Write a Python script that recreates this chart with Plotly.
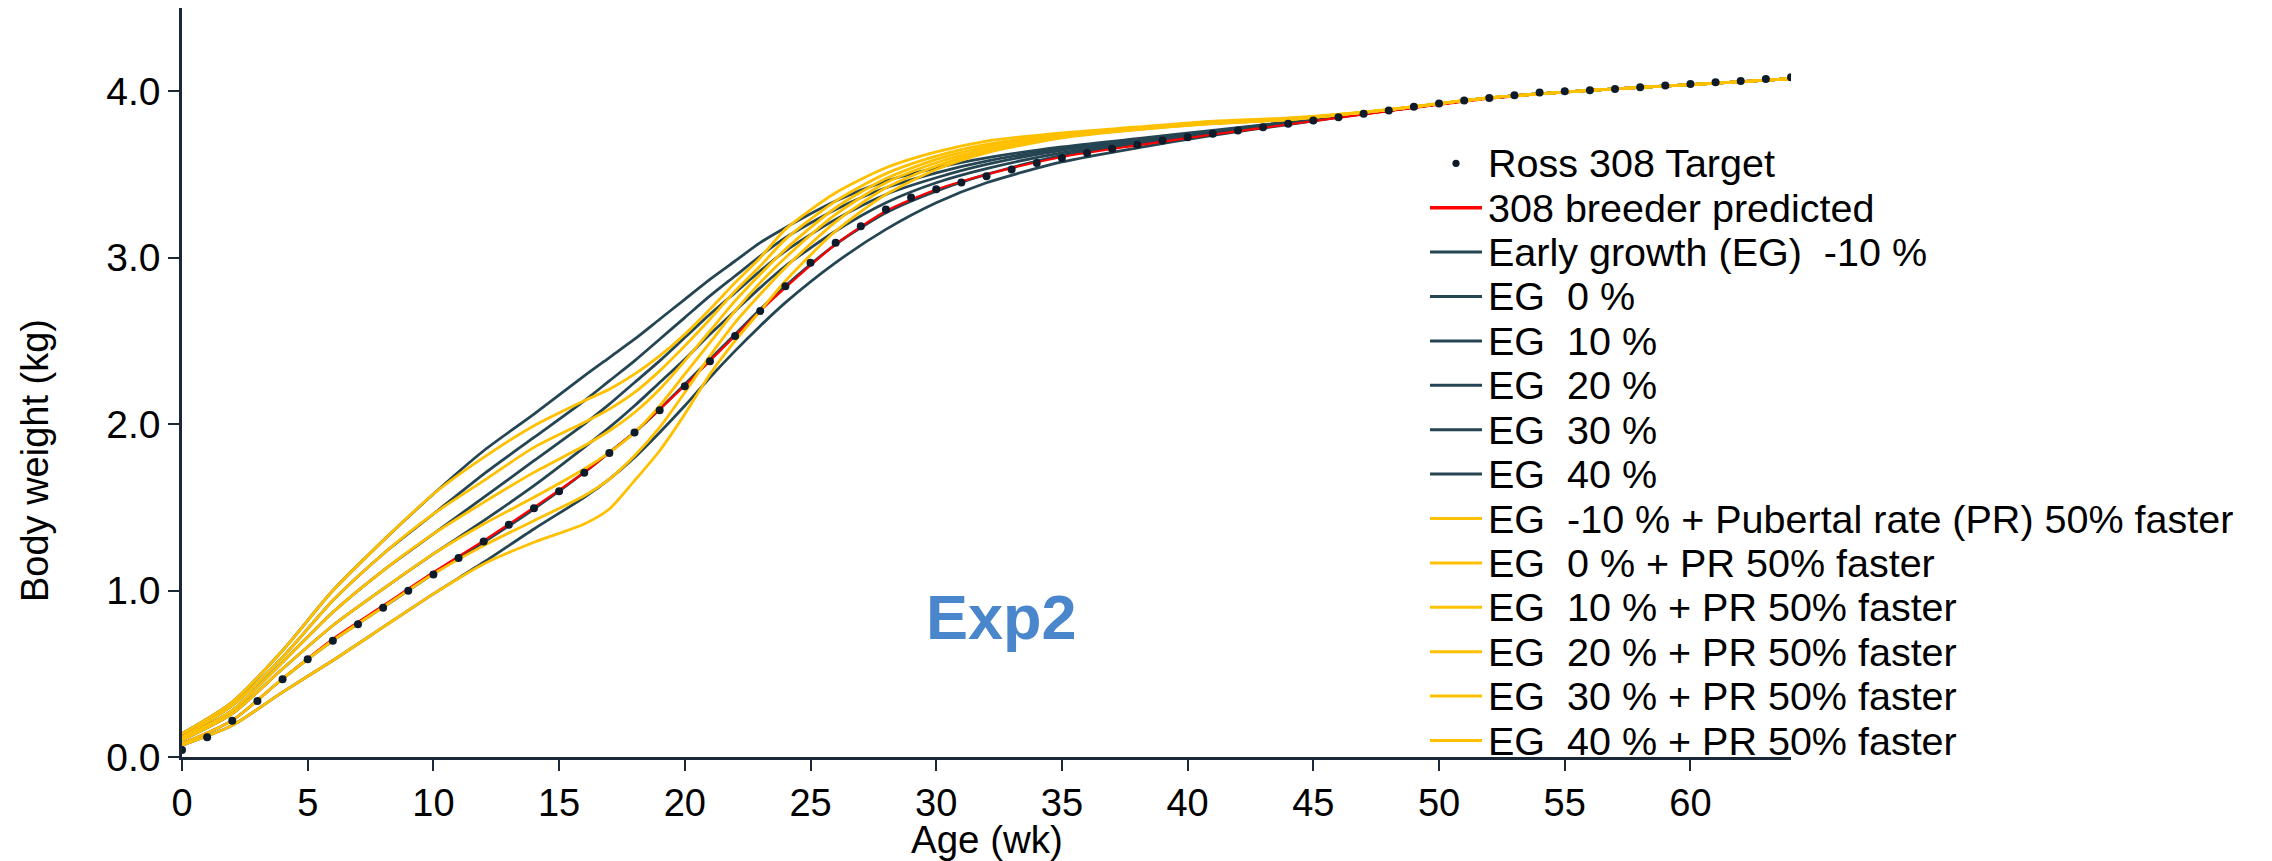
import plotly.graph_objects as go

# Ross 308 weekly target body weight (kg), weeks 0..64
target_weeks = list(range(0, 65))
target_bw = [0.042, 0.118, 0.218, 0.336, 0.467, 0.587, 0.699, 0.797, 0.897, 0.999,
             1.097, 1.195, 1.295, 1.395, 1.495, 1.596, 1.708, 1.826, 1.950, 2.084,
             2.228, 2.378, 2.529, 2.679, 2.829, 2.969, 3.089, 3.189, 3.289, 3.362,
             3.411, 3.451, 3.489, 3.529, 3.569, 3.599, 3.629, 3.654, 3.678, 3.704,
             3.724, 3.744, 3.764, 3.784, 3.804, 3.824, 3.844, 3.864, 3.884, 3.906,
             3.926, 3.944, 3.960, 3.976, 3.992, 4.000, 4.006, 4.014, 4.024, 4.034,
             4.044, 4.054, 4.062, 4.074, 4.084]

# Model output weeks
weeks = [0, 2, 4, 6, 8, 10, 12, 14, 16, 17, 18, 19, 20, 21, 22, 23, 24, 26, 28, 30,
         32, 35, 38, 41, 44, 48, 52, 56, 60, 64]

breeder_pred = [0.08, 0.22, 0.47, 0.71, 0.91, 1.11, 1.30, 1.50, 1.71, 1.83, 1.95, 2.09, 2.23, 2.38, 2.53,
                2.68, 2.82, 3.08, 3.28, 3.41, 3.50, 3.605, 3.675, 3.74, 3.80, 3.88, 3.955, 4.005, 4.04, 4.075]

# Early growth (EG) scenarios
eg_m10 = [0.07, 0.19, 0.39, 0.58, 0.78, 0.98, 1.17, 1.37, 1.56, 1.67, 1.80, 1.95, 2.11, 2.28, 2.44,
          2.59, 2.73, 2.97, 3.17, 3.33, 3.45, 3.575, 3.66, 3.735, 3.80, 3.885, 3.96, 4.005, 4.04, 4.075]
eg_0 = [0.08, 0.22, 0.47, 0.70, 0.90, 1.10, 1.29, 1.49, 1.71, 1.83, 1.95, 2.09, 2.24, 2.39, 2.54,
        2.69, 2.83, 3.08, 3.27, 3.40, 3.50, 3.615, 3.68, 3.745, 3.805, 3.885, 3.96, 4.005, 4.04, 4.075]
eg_10 = [0.10, 0.26, 0.53, 0.79, 1.01, 1.22, 1.42, 1.63, 1.86, 1.98, 2.11, 2.25, 2.39, 2.54, 2.68,
         2.82, 2.95, 3.16, 3.33, 3.45, 3.535, 3.63, 3.69, 3.75, 3.81, 3.885, 3.96, 4.005, 4.04, 4.075]
eg_20 = [0.11, 0.28, 0.57, 0.87, 1.12, 1.34, 1.56, 1.78, 2.00, 2.12, 2.25, 2.38, 2.52, 2.66, 2.79,
         2.92, 3.04, 3.23, 3.38, 3.48, 3.56, 3.645, 3.70, 3.755, 3.81, 3.885, 3.96, 4.005, 4.04, 4.075]
eg_30 = [0.12, 0.31, 0.60, 0.94, 1.22, 1.46, 1.70, 1.92, 2.14, 2.26, 2.38, 2.51, 2.64, 2.77, 2.89,
         3.01, 3.12, 3.29, 3.42, 3.51, 3.58, 3.655, 3.71, 3.76, 3.81, 3.885, 3.96, 4.005, 4.04, 4.075]
eg_40 = [0.14, 0.33, 0.64, 1.00, 1.30, 1.58, 1.84, 2.06, 2.29, 2.40, 2.51, 2.63, 2.75, 2.87, 2.98,
         3.09, 3.18, 3.34, 3.46, 3.54, 3.60, 3.665, 3.715, 3.765, 3.815, 3.885, 3.96, 4.005, 4.04, 4.075]

# EG scenarios combined with a 50% faster pubertal rate (PR)
pr_m10 = [0.07, 0.19, 0.39, 0.58, 0.78, 0.98, 1.16, 1.29, 1.40, 1.49, 1.66, 1.84, 2.06, 2.30, 2.50,
          2.68, 2.86, 3.16, 3.38, 3.53, 3.63, 3.72, 3.77, 3.805, 3.83, 3.89, 3.96, 4.005, 4.04, 4.075]
pr_0 = [0.08, 0.22, 0.47, 0.70, 0.90, 1.10, 1.27, 1.42, 1.57, 1.67, 1.81, 1.98, 2.19, 2.41, 2.61,
        2.78, 2.94, 3.215, 3.42, 3.55, 3.64, 3.725, 3.77, 3.805, 3.83, 3.89, 3.96, 4.005, 4.04, 4.075]
pr_10 = [0.10, 0.26, 0.53, 0.79, 1.01, 1.22, 1.40, 1.56, 1.73, 1.83, 1.95, 2.11, 2.30, 2.49, 2.68,
         2.85, 3.00, 3.26, 3.45, 3.57, 3.65, 3.73, 3.775, 3.81, 3.83, 3.89, 3.96, 4.005, 4.04, 4.075]
pr_20 = [0.11, 0.28, 0.57, 0.87, 1.12, 1.34, 1.53, 1.71, 1.87, 1.96, 2.07, 2.21, 2.38, 2.56, 2.74,
         2.90, 3.05, 3.30, 3.475, 3.59, 3.665, 3.735, 3.78, 3.81, 3.835, 3.89, 3.96, 4.005, 4.04, 4.075]
pr_30 = [0.12, 0.31, 0.60, 0.94, 1.22, 1.46, 1.66, 1.86, 2.01, 2.09, 2.19, 2.32, 2.47, 2.63, 2.80,
         2.95, 3.11, 3.34, 3.505, 3.61, 3.68, 3.74, 3.78, 3.815, 3.835, 3.89, 3.96, 4.005, 4.04, 4.075]
pr_40 = [0.14, 0.33, 0.64, 1.00, 1.30, 1.58, 1.80, 1.99, 2.14, 2.21, 2.30, 2.41, 2.54, 2.69, 2.85,
         3.00, 3.17, 3.39, 3.54, 3.635, 3.70, 3.75, 3.785, 3.82, 3.84, 3.89, 3.96, 4.005, 4.04, 4.075]

NB = "\u00a0"
eg_labels = ["Early growth (EG)" + NB + " -10 %", "EG" + NB + " 0 %", "EG" + NB + " 10 %",
             "EG" + NB + " 20 %", "EG" + NB + " 30 %", "EG" + NB + " 40 %"]
pr_labels = ["EG" + NB + " -10 % + Pubertal rate (PR) 50% faster",
             "EG" + NB + " 0 % + PR 50% faster", "EG" + NB + " 10 % + PR 50% faster",
             "EG" + NB + " 20 % + PR 50% faster", "EG" + NB + " 30 % + PR 50% faster",
             "EG" + NB + " 40 % + PR 50% faster"]
eg_series = [eg_m10, eg_0, eg_10, eg_20, eg_30, eg_40]
pr_series = [pr_m10, pr_0, pr_10, pr_20, pr_30, pr_40]

DARK = "#254553"
GOLD = "#FFC000"
RED = "#FF0000"
DOT = "#0D1B2A"
AXIS = "#1B2838"
FONT = "Liberation Sans, Arial, sans-serif"

# Figure geometry (pixels)
W, H = 2272, 861
ML, MR, MT, MB = 182, 481, 8, 104
PW, PH = W - ML - MR, H - MT - MB


def px_x(px):
    return (px - ML) / PW


def px_y(py):
    return (H - MB - py) / PH


SPLINE = dict(shape="spline", smoothing=0.7)

fig = go.Figure()

for lab, ys in zip(eg_labels, eg_series):
    fig.add_trace(go.Scatter(x=weeks, y=ys, mode="lines", name=lab, showlegend=False,
                             line=dict(color=DARK, width=2.8, **SPLINE)))

fig.add_trace(go.Scatter(x=weeks, y=breeder_pred, mode="lines", name="308 breeder predicted",
                         showlegend=False, line=dict(color=RED, width=2.2, **SPLINE)))

for lab, ys in zip(pr_labels, pr_series):
    fig.add_trace(go.Scatter(x=weeks, y=ys, mode="lines", name=lab, showlegend=False,
                             line=dict(color=GOLD, width=2.8, **SPLINE)))

fig.add_trace(go.Scatter(x=target_weeks, y=target_bw, mode="markers", name="Ross 308 Target",
                         showlegend=False, marker=dict(color=DOT, size=8)))

# Legend block: compact rows drawn as text + swatches
legend_rows = ([("Ross 308 Target", "dot", DOT, 0), ("308 breeder predicted", "line", RED, 3.5)]
               + [(lab, "line", DARK, 3) for lab in eg_labels]
               + [(lab, "line", GOLD, 3) for lab in pr_labels])
ROW0, ROWSTEP = 163.3, 44.4
SW0, SW1, TX = 1430, 1482, 1486
for k, (lab, kind, col, lw) in enumerate(legend_rows):
    yc = ROW0 + ROWSTEP * k
    fig.add_annotation(x=px_x(TX), y=px_y(yc), xref="paper", yref="paper", text=lab,
                       showarrow=False, xanchor="left", yanchor="middle",
                       font=dict(family=FONT, size=39.5, color="black"))
    if kind == "line":
        fig.add_shape(type="line", xref="paper", yref="paper",
                      x0=px_x(SW0), x1=px_x(SW1), y0=px_y(yc), y1=px_y(yc),
                      line=dict(color=col, width=lw))
    else:
        xc = (SW0 + SW1) / 2
        fig.add_shape(type="circle", xref="paper", yref="paper",
                      x0=px_x(xc - 3.6), x1=px_x(xc + 3.6), y0=px_y(yc + 3.6), y1=px_y(yc - 3.6),
                      fillcolor=col, line=dict(color=col, width=0))

fig.add_annotation(x=32.6, y=0.84, xref="x", yref="y", text="<b>Exp2</b>", showarrow=False,
                   xanchor="center", yanchor="middle",
                   font=dict(family=FONT, size=63, color="#4A86CC"))

fig.add_annotation(x=px_x(35), y=px_y(461), xref="paper", yref="paper",
                   text="Body weight (kg)", textangle=-90, showarrow=False,
                   xanchor="center", yanchor="middle",
                   font=dict(family=FONT, size=38, color="black"))
fig.add_annotation(x=0.5, y=px_y(839), xref="paper", yref="paper",
                   text="Age (wk)", showarrow=False, xanchor="center", yanchor="middle",
                   borderpad=0, font=dict(family=FONT, size=38.5, color="black"))

fig.update_layout(
    width=W, height=H,
    margin=dict(l=ML, r=MR, t=MT, b=MB),
    paper_bgcolor="white", plot_bgcolor="white",
    font=dict(family=FONT, size=38, color="black"),
    showlegend=False,
)
fig.update_xaxes(range=[0, 64], tickvals=list(range(0, 61, 5)), showline=True,
                 linecolor=AXIS, linewidth=2.5, ticks="outside", ticklen=11, tickwidth=2,
                 tickcolor=AXIS, showgrid=False, zeroline=False,
                 tickfont=dict(family=FONT, size=38, color="black"))
fig.update_yaxes(range=[0, 4.5], tickvals=[0, 1, 2, 3, 4], tickformat=".1f", showline=True,
                 linecolor=AXIS, linewidth=2.5, ticks="outside", ticklen=11, tickwidth=2,
                 tickcolor=AXIS, showgrid=False, zeroline=False,
                 tickfont=dict(family=FONT, size=39, color="black"))

fig.write_html("out.html")
